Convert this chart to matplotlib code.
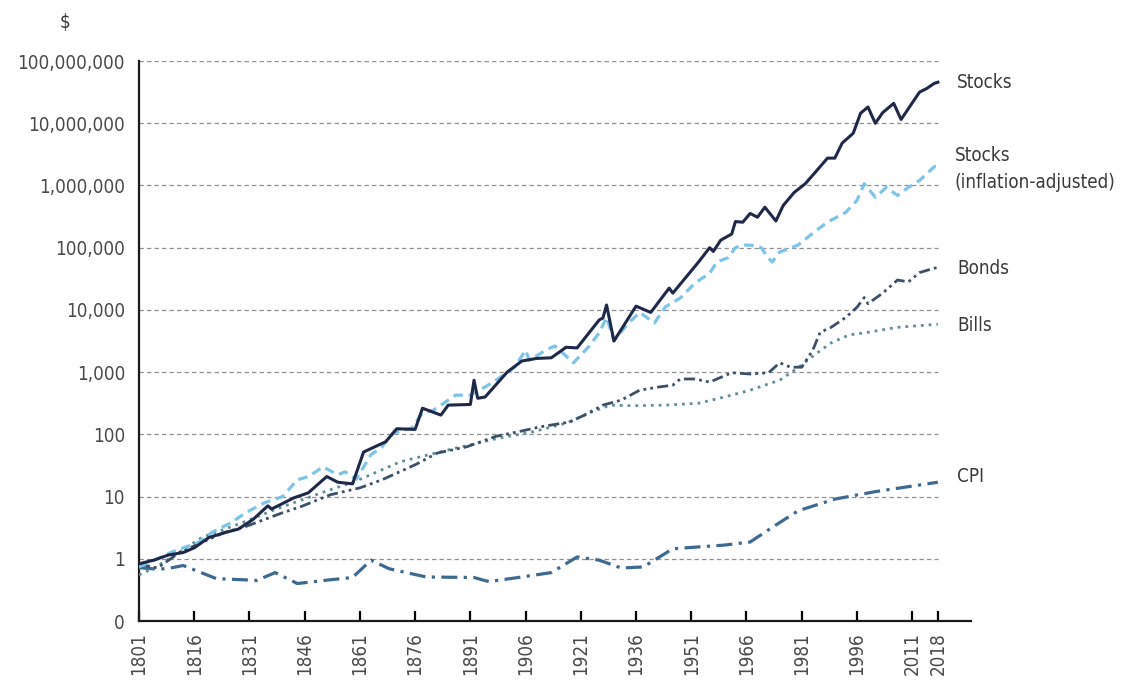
import matplotlib
matplotlib.use("Agg")
import matplotlib.pyplot as plt
from matplotlib import font_manager
import numpy as np

# total return index, $1 invested in 1801
stocks_years = [1801, 1805, 1809, 1813, 1816, 1820, 1825, 1828, 1832, 1836, 1837, 1843,
                1847, 1852, 1855, 1859, 1862, 1868, 1871, 1876, 1878, 1883, 1885, 1891,
                1892, 1893, 1895, 1901, 1905, 1909, 1913, 1917, 1920, 1926, 1927, 1928,
                1930, 1936, 1940, 1945, 1946, 1953, 1956, 1957, 1959, 1962, 1963, 1965,
                1967, 1969, 1971, 1974, 1976, 1979, 1982, 1986, 1988, 1990, 1992, 1995,
                1997, 1999, 2001, 2003, 2006, 2008, 2013, 2015, 2017, 2018]
stocks = [0.83, 0.95, 1.15, 1.26, 1.5, 2.2, 2.7, 3.0, 4.3, 7.1, 6.3, 9.5,
          11.5, 21, 17, 16, 52, 76, 123, 120, 263, 204, 295, 302,
          741, 380, 398, 1000, 1510, 1660, 1700, 2510, 2450, 6900, 7400, 12000,
          3160, 11500, 9100, 22400, 18600, 59000, 100000, 87000, 132000, 166000, 263000, 257000,
          355000, 309000, 447000, 269000, 479000, 776000, 1.07e6, 2.0e6, 2.75e6, 2.75e6, 4.8e6, 6.9e6,
          14.5e6, 18.2e6, 10.0e6, 14.8e6, 20.9e6, 11.5e6, 31.6e6, 36.3e6, 43.7e6, 45.7e6]

real_years = [1801, 1806, 1810, 1817, 1821, 1826, 1830, 1835, 1840, 1844, 1847, 1851,
              1855, 1857, 1860, 1864, 1867, 1870, 1875, 1878, 1881, 1887, 1891, 1893,
              1895, 1900, 1903, 1906, 1907, 1912, 1914, 1919, 1923, 1926, 1928, 1930,
              1934, 1937, 1941, 1944, 1948, 1952, 1956, 1958, 1961, 1963, 1965, 1967,
              1970, 1972, 1973, 1975, 1980, 1985, 1988, 1993, 1996, 1998, 2001, 2004,
              2007, 2010, 2013, 2017, 2018]
stocks_real = [0.74, 1.0, 1.29, 1.82, 2.7, 3.8, 5.5, 7.9, 10, 18.6, 20.9, 30,
               22.4, 25, 19, 47, 63, 105, 126, 219, 245, 427, 427, 500,
               575, 891, 1200, 2240, 1550, 2340, 2630, 1410, 2510, 4270, 7590, 3240,
               6170, 9120, 6170, 11200, 15500, 26900, 38900, 58900, 69200, 100000, 110000, 110000,
               100000, 67600, 58900, 85100, 110000, 190000, 257000, 372000, 575000, 1.07e6, 646000, 933000,
               692000, 933000, 1.2e6, 2.0e6, 2.04e6]

bonds_years = [1801, 1806, 1812, 1818, 1824, 1830, 1835, 1840, 1845, 1853, 1861, 1867,
               1876, 1882, 1890, 1898, 1904, 1910, 1918, 1922, 1927, 1932, 1937, 1942,
               1946, 1948, 1952, 1956, 1962, 1967, 1972, 1975, 1978, 1981, 1984, 1986,
               1989, 1993, 1996, 1998, 1999, 2003, 2007, 2010, 2013, 2017, 2018]
bonds = [0.83, 0.71, 1.26, 1.82, 2.63, 3.3, 4.27, 5.5, 6.9, 10.7, 13.8, 18.6,
         32.4, 50, 63, 93, 110, 132, 158, 204, 295, 355, 513, 575,
         617, 776, 776, 692, 977, 933, 977, 1410, 1200, 1200, 2240, 4370,
         5250, 7590, 11000, 15800, 12600, 18600, 30200, 28200, 39800, 46800, 47900]

bills_years = [1801, 1805, 1810, 1818, 1829, 1838, 1850, 1860, 1872, 1885, 1898, 1908,
               1917, 1924, 1929, 1935, 1944, 1953, 1960, 1967, 1975, 1980, 1985, 1989,
               1994, 1998, 2007, 2018]
bills = [0.55, 0.71, 1.07, 2.19, 3.8, 6.2, 11.2, 17.8, 36.3, 56.2, 85, 110,
         151, 229, 295, 288, 295, 316, 398, 513, 741, 1175, 2000, 2950,
         3980, 4270, 5250, 5890]

cpi_years = [1801, 1806, 1809, 1813, 1815, 1822, 1833, 1838, 1844, 1853, 1859, 1864,
             1869, 1879, 1892, 1896, 1904, 1913, 1920, 1926, 1932, 1938, 1946, 1960,
             1967, 1973, 1980, 1990, 2001, 2018]
cpi = [0.72, 0.68, 0.7, 0.78, 0.7, 0.48, 0.45, 0.6, 0.4, 0.46, 0.5, 0.95,
       0.69, 0.51, 0.5, 0.43, 0.5, 0.6, 1.07, 0.95, 0.71, 0.74, 1.45, 1.66,
       1.86, 3.2, 5.9, 9.1, 12.0, 17.0]

year_ticks = [1801, 1816, 1831, 1846, 1861, 1876, 1891, 1906, 1921, 1936, 1951,
              1966, 1981, 1996, 2011, 2018]
y_ticks = [0.1, 1, 10, 100, 1e3, 1e4, 1e5, 1e6, 1e7, 1e8]
y_labels = ["0", "1", "10", "100", "1,000", "10,000", "100,000", "1,000,000",
            "10,000,000", "100,000,000"]

# pick a narrow face if one is around, the original uses a condensed font
fonts = font_manager.fontManager.ttflist
names = {f.name for f in fonts}
stretch = 'normal'
if 'Liberation Sans Narrow' in names:
    family = 'Liberation Sans Narrow'
    fsize = 14.5
elif any(f.name == 'DejaVu Sans' and f.stretch == 'condensed' for f in fonts):
    family = 'DejaVu Sans'
    stretch = 'condensed'
    fsize = 13.5
else:
    family = 'Liberation Sans'
    fsize = 13.5
plt.rcParams['font.family'] = [family, 'DejaVu Sans']
plt.rcParams['font.stretch'] = stretch

fig = plt.figure(figsize=(11.32, 6.92), dpi=100)
ax = fig.add_axes([0.1228, 0.1026, 0.735, 0.8092])

# dashed grid only across the data range
ax.hlines(y_ticks[1:], stocks_years[0], stocks_years[-1], colors='#909090',
          linestyles=(0, (3.5, 2.5)), linewidth=0.9, zorder=1)

ax.plot(cpi_years, cpi, color='#3d6a90', lw=2.3, ls=(0, (5, 2, 1, 2)), zorder=3)
ax.plot(bills_years, bills, color='#5f8f98', lw=2.0, ls=(0, (1, 1.8)), zorder=3)
ax.plot(bonds_years, bonds, color='#3a5068', lw=2.0, ls=(0, (4, 1.5, 1, 1.5, 1, 1.5)), zorder=4)
ax.plot(real_years, stocks_real, color='#7cc4e8', lw=2.3, ls=(0, (3, 1.8)), zorder=4)
ax.plot(stocks_years, stocks, color='#1e2848', lw=2.2, zorder=5)

ax.set_yscale('log')
ax.set_ylim(0.1, 1e8)
ax.set_xlim(1801, 2027)
ax.set_yticks(y_ticks)
ax.set_yticklabels(y_labels)
ax.minorticks_off()
ax.set_xticks(year_ticks)
ax.set_xticklabels([str(y) for y in year_ticks], rotation=90)

for s in ['top', 'right']:
    ax.spines[s].set_visible(False)
for s in ['left', 'bottom']:
    ax.spines[s].set_linewidth(1.6)
    ax.spines[s].set_color('#1a1a1a')

ax.tick_params(axis='y', length=0, pad=10, labelsize=fsize, labelcolor='#4a4a4a')
ax.tick_params(axis='x', direction='in', length=7, width=1.6, pad=8,
               labelsize=fsize, labelcolor='#4a4a4a')

# series labels next to line ends
lab = dict(fontsize=fsize, color='#3a3a3a', va='center', ha='left',
           textcoords='offset points', annotation_clip=False)
ax.annotate("Stocks", xy=(stocks_years[-1], stocks[-1]), xytext=(14, 0), **lab)
ax.annotate("Stocks\n(inflation-adjusted)", xy=(real_years[-1], stocks_real[-1]),
            xytext=(12, -2), linespacing=1.5, **lab)
ax.annotate("Bonds", xy=(bonds_years[-1], bonds[-1]), xytext=(14, -1), **lab)
ax.annotate("Bills", xy=(bills_years[-1], bills[-1]), xytext=(14, -1), **lab)
ax.annotate("CPI", xy=(cpi_years[-1], cpi[-1]), xytext=(14, 4), **lab)

fig.text(0.053, 0.968, "$", fontsize=fsize, color='#3a3a3a', ha='left', va='center')

fig.savefig("out.png", dpi=100, facecolor='white')
